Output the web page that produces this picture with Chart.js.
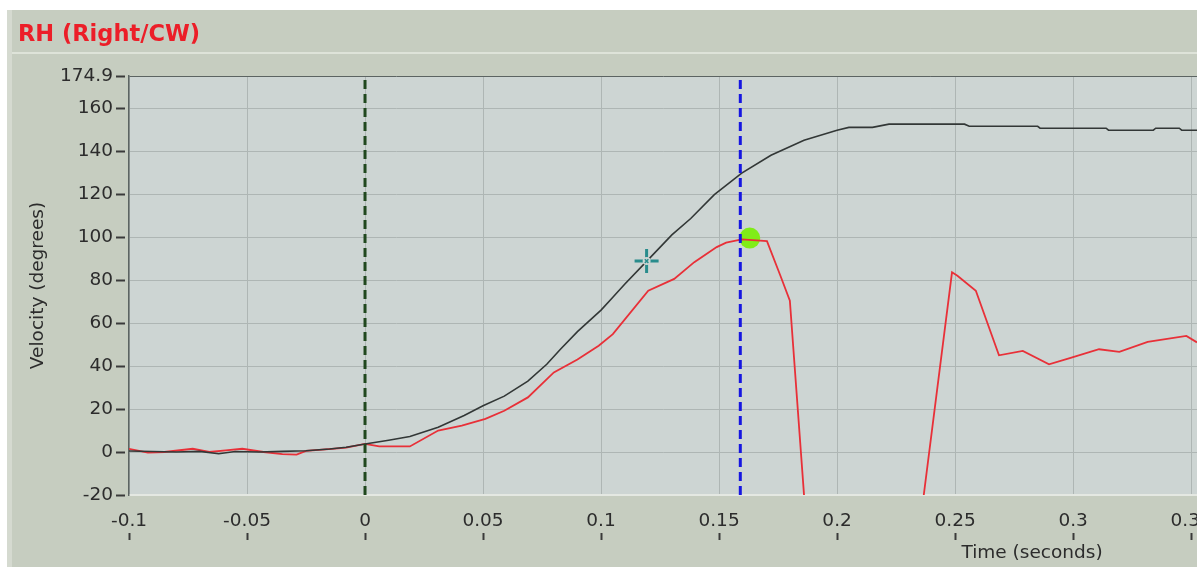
<!DOCTYPE html>
<html>
<head>
<meta charset="utf-8">
<title>RH (Right/CW)</title>
<script src="https://cdn.jsdelivr.net/npm/chart.js"></script>
<style>
  html, body { margin: 0; padding: 0; background: #fff; }
  #wrap { width: 1197px; height: 571px; }
</style>
</head>
<body>
<div id="wrap"><canvas id="velocityChart" width="1197" height="571"></canvas></div>
<script>
// Axis ticks
const timeTicks = [-0.1, -0.05, 0, 0.05, 0.1, 0.15, 0.2, 0.25, 0.3, 0.35];
const velocityTicks = [-20, 0, 20, 40, 60, 80, 100, 120, 140, 160, 174.9];

// Head velocity (black trace)
const headTime = [-0.1, -0.09, -0.08, -0.07, -0.062, -0.055, -0.045, -0.035, -0.025, -0.015, -0.008,
  0, 0.01, 0.019, 0.031, 0.042, 0.05, 0.059, 0.069, 0.077, 0.0828, 0.09, 0.1, 0.105, 0.11, 0.12,
  0.13, 0.138, 0.148, 0.1596, 0.172, 0.186, 0.2, 0.205, 0.215, 0.222, 0.254, 0.256, 0.285, 0.286,
  0.314, 0.315, 0.334, 0.335, 0.345, 0.346, 0.3525];
const headVel = [0.5, 0.2, 0, 0.3, -0.8, 0.2, 0, 0.3, 0.6, 1.4, 2.2,
  3.7, 5.5, 7.2, 11.5, 17, 21.5, 26, 33, 40.8, 47.8, 56, 66, 72, 78, 89.5,
  101, 108.6, 119.7, 129.7, 138, 145, 149.7, 151, 151, 152.5, 152.5, 151.5, 151.5, 150.6,
  150.6, 149.7, 149.7, 150.6, 150.6, 149.7, 149.7];

// Eye velocity (red trace)
const eyeTime = [-0.1, -0.092, -0.085, -0.073, -0.066, -0.059, -0.052, -0.043, -0.035, -0.029, -0.025,
  -0.014, -0.008, 0, 0.006, 0.019, 0.031, 0.041, 0.051, 0.059, 0.069, 0.08, 0.09, 0.099, 0.105,
  0.12, 0.131, 0.1395, 0.149, 0.153, 0.1596, 0.1703, 0.176, 0.18, 0.187, 0.235, 0.2487, 0.251,
  0.2588, 0.2686, 0.2787, 0.2898, 0.2993, 0.311, 0.3196, 0.3316, 0.348, 0.3525];
const eyeVel = [1.5, -0.3, 0, 1.5, 0, 0.8, 1.5, 0, -1, -1.2, 0.5,
  1.5, 2, 3.8, 2.6, 2.6, 10, 12.3, 15.4, 19.2, 25.4, 37, 43, 49.4, 54.8,
  75, 80.5, 88.3, 95.3, 97.4, 98.9, 98.1, 82, 70.4, -35, -35, 83.6, 82,
  75, 45, 47, 40.8, 43.9, 47.8, 46.6, 51.2, 54, 51];

// Markers
const onsetTime = 0;
const cursorTime = 0.159;
const peakPoint = { x: 0.163, y: 99.5 };
const crossPoint = { x: 0.1193, y: 88.8 };

const FONT = 'DejaVu Sans';
const PLOT_BG = 'rgb(205,213,211)';
const TEXT = '#2c2c2c';

const toPoints = (xs, ys) => xs.map((x, i) => ({ x: x, y: ys[i] }));
const vline = t => [{ x: t, y: velocityTicks[0] }, { x: t, y: velocityTicks[velocityTicks.length - 1] }];

const panelPlugin = {
  id: 'panel',
  beforeDraw(chart) {
    const { ctx, chartArea: a, width, height } = chart;
    ctx.save();
    ctx.fillStyle = '#ffffff';
    ctx.fillRect(0, 0, width, height);
    ctx.fillStyle = 'rgb(198,205,192)';
    ctx.fillRect(7, 10, width - 7, height - 14);
    ctx.fillStyle = 'rgb(213,218,208)';
    ctx.fillRect(7, 10, 5, height - 14);
    ctx.fillStyle = 'rgb(222,227,217)';
    ctx.fillRect(12, 52, width - 12, 2);
    ctx.fillStyle = PLOT_BG;
    ctx.fillRect(a.left, a.top, a.right - a.left, a.bottom - a.top);
    ctx.fillStyle = 'rgb(236,30,40)';
    ctx.font = 'bold 22.5px "' + FONT + '"';
    ctx.textBaseline = 'middle';
    ctx.fillText('RH (Right/CW)', 18, 35);
    ctx.restore();
  },
  afterDraw(chart) {
    const { ctx, chartArea: a } = chart;
    const xs = chart.scales.x;
    ctx.save();
    // tick marks sit under the x labels
    ctx.strokeStyle = '#3a3a3a';
    ctx.lineWidth = 2;
    xs.ticks.forEach(t => {
      const px = Math.round(xs.getPixelForValue(t.value)) + 0.5;
      ctx.beginPath();
      ctx.moveTo(px, a.bottom + 38);
      ctx.lineTo(px, a.bottom + 45);
      ctx.stroke();
    });
    ctx.fillStyle = TEXT;
    ctx.font = '18.5px "' + FONT + '"';
    ctx.textAlign = 'center';
    ctx.textBaseline = 'middle';
    ctx.fillText('Time (seconds)', 1032, 553);
    ctx.restore();
  }
};

new Chart(document.getElementById('velocityChart'), {
  type: 'scatter',
  data: {
    datasets: [
      {
        label: 'cursor centre',
        data: [crossPoint],
        pointStyle: 'crossRot',
        pointRadius: 2.5,
        borderColor: 'rgb(40,140,140)',
        borderWidth: 1.5,
        order: 0
      },
      {
        label: 'cursor gap',
        data: [crossPoint],
        pointStyle: 'circle',
        pointRadius: 4,
        backgroundColor: PLOT_BG,
        borderWidth: 0,
        order: 1
      },
      {
        label: 'cursor',
        data: [crossPoint],
        pointStyle: 'cross',
        pointRadius: 12,
        borderColor: 'rgb(40,140,140)',
        borderWidth: 3,
        order: 2
      },
      {
        label: 'cursor line',
        data: vline(cursorTime),
        showLine: true,
        borderColor: 'rgb(22,22,225)',
        borderWidth: 3,
        borderDash: [9, 5],
        pointRadius: 0,
        order: 3
      },
      {
        label: 'onset',
        data: vline(onsetTime),
        showLine: true,
        borderColor: 'rgb(32,72,30)',
        borderWidth: 3,
        borderDash: [9, 5],
        pointRadius: 0,
        order: 4
      },
      {
        label: 'head',
        data: toPoints(headTime, headVel),
        showLine: true,
        borderColor: 'rgb(50,55,54)',
        borderWidth: 1.6,
        pointRadius: 0,
        order: 5
      },
      {
        label: 'eye',
        data: toPoints(eyeTime, eyeVel),
        showLine: true,
        borderColor: 'rgb(232,48,56)',
        borderWidth: 1.8,
        pointRadius: 0,
        order: 6
      },
      {
        label: 'peak',
        data: [peakPoint],
        pointStyle: 'circle',
        pointRadius: 10.5,
        backgroundColor: 'rgb(128,236,24)',
        borderWidth: 0,
        order: 7
      }
    ]
  },
  options: {
    responsive: false,
    animation: false,
    devicePixelRatio: 1,
    layout: { autoPadding: false, padding: { left: 23, top: 76, right: 0, bottom: 0 } },
    plugins: {
      legend: { display: false },
      tooltip: { enabled: false },
      title: { display: false }
    },
    scales: {
      x: {
        type: 'linear',
        min: -0.1,
        max: 0.3525,
        afterBuildTicks: s => { s.ticks = timeTicks.map(v => ({ value: v })); },
        afterFit: s => { s.height = 76; s.paddingLeft = 0; s.paddingRight = 0; },
        ticks: {
          autoSkip: false,
          maxRotation: 0,
          minRotation: 0,
          padding: 15,
          color: TEXT,
          font: { family: FONT, size: 18.5 },
          callback: v => String(+v.toFixed(2))
        },
        grid: {
          color: 'rgb(174,182,180)',
          lineWidth: 1,
          drawTicks: false
        },
        border: { color: 'rgb(228,232,226)', width: 2 }
      },
      y: {
        type: 'linear',
        min: -20,
        max: 174.9,
        afterBuildTicks: s => { s.ticks = velocityTicks.map(v => ({ value: v })); },
        afterFit: s => { s.width = 106; },
        ticks: {
          autoSkip: false,
          padding: 3,
          color: TEXT,
          font: { family: FONT, size: 18.5 },
          callback: v => String(v)
        },
        grid: {
          color: c => c.tick && c.tick.value === 174.9 ? 'rgb(92,100,98)'
            : (c.tick && c.tick.value === -20 ? 'rgb(228,232,226)' : 'rgb(174,182,180)'),
          lineWidth: 1,
          drawTicks: true,
          tickLength: 13,
          tickWidth: 2,
          tickColor: '#3a3a3a',
          tickBorderDash: [9, 20]
        },
        border: { color: 'rgb(92,100,98)', width: 1.5 },
        title: {
          display: true,
          text: 'Velocity (degrees)',
          color: TEXT,
          font: { family: FONT, size: 18.5 },
          padding: { top: 4, bottom: 0 }
        }
      }
    }
  },
  plugins: [panelPlugin]
});
</script>
</body>
</html>
